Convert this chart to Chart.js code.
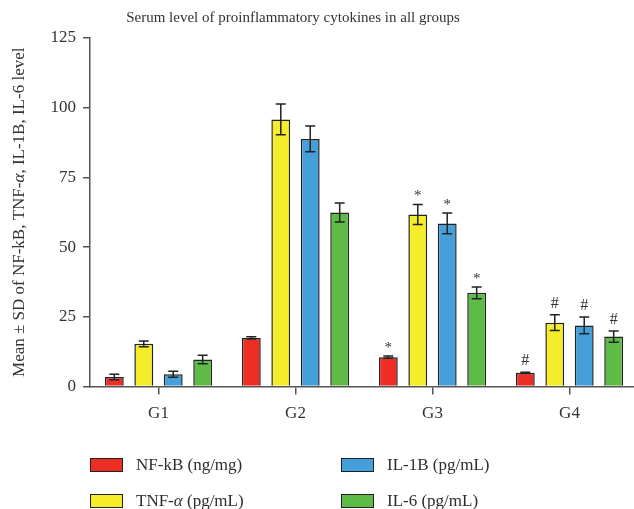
<!DOCTYPE html>
<html>
<head>
<meta charset="utf-8">
<script src="https://cdn.jsdelivr.net/npm/chart.js@4.4.0/dist/chart.umd.min.js"></script>
<style>
    html, body { margin: 0; padding: 0; background: #fff; overflow: hidden; }
    #wrap { position: relative; width: 634px; height: 509px; overflow: hidden; }
    canvas { position: absolute; left: 0; top: 0; }
    .legend-item { position: absolute; display: flex; align-items: center; font-family: "Liberation Serif", serif; font-size: 17px; color: #2e2e2e; white-space: nowrap; }
    .legend-item .box { display: inline-block; width: 31px; height: 12px; border: 1.5px solid #222; margin-right: 13px; }
</style>
</head>
<body>
<div id="wrap">
    <canvas id="barChart" width="640" height="509" style="width:640px;height:509px"></canvas>
    <div id="legend"></div>
</div>
<script>
const groups = ['G1', 'G2', 'G3', 'G4'];
const seriesNames = ['NF-kB (ng/mg)', 'TNF-α (pg/mL)', 'IL-1B (pg/mL)', 'IL-6 (pg/mL)'];
const seriesColors = ['#ee2d24', '#f5ec2a', '#45a0da', '#5dbb46'];

// mean and SD per group (G1..G4)
const nfkbMean = [3.4, 17.4, 10.5, 4.9];
const nfkbSd = [1.0, 0.4, 0.4, 0.2];
const tnfMean = [15.3, 95.8, 61.7, 22.9];
const tnfSd = [1.0, 5.5, 3.6, 2.8];
const il1bMean = [4.4, 88.8, 58.5, 21.9];
const il1bSd = [1.1, 4.6, 3.7, 3.0];
const il6Mean = [9.7, 62.4, 33.6, 17.9];
const il6Sd = [1.5, 3.4, 2.1, 2.0];

// significance marks shown above every bar of a group
const groupMarks = ['', '', '*', '#'];
const yTicks = [0, 25, 50, 75, 100, 125];

const chartTitle = 'Serum level of proinflammatory cytokines in all groups';
const yTitleParts = [['Mean ± SD of NF-kB, TNF-', false], ['α', true], [', IL-1B, IL-6 level', false]];

const means = [nfkbMean, tnfMean, il1bMean, il6Mean];
const sds = [nfkbSd, tnfSd, il1bSd, il6Sd];

const FONT = '"Liberation Serif", serif';
const TEXT = '#333333';
const AXIS = '#555555';

Chart.defaults.font.family = FONT;
Chart.defaults.font.size = 17;
Chart.defaults.color = TEXT;

const errorBarPlugin = {
    id: 'errorBars',
    afterDatasetsDraw(chart) {
        const ctx = chart.ctx;
        const y = chart.scales.y;
        ctx.save();
        ctx.strokeStyle = '#222';
        ctx.lineWidth = 1.5;
        chart.data.datasets.forEach((ds, i) => {
            const meta = chart.getDatasetMeta(i);
            meta.data.forEach((bar, j) => {
                const m = means[i][j];
                const sd = sds[i][j];
                const top = y.getPixelForValue(m + sd);
                const bottom = y.getPixelForValue(m - sd);
                const cap = 5;
                ctx.beginPath();
                ctx.moveTo(bar.x, top); ctx.lineTo(bar.x, bottom);
                ctx.moveTo(bar.x - cap, top); ctx.lineTo(bar.x + cap, top);
                ctx.moveTo(bar.x - cap, bottom); ctx.lineTo(bar.x + cap, bottom);
                ctx.stroke();

                const mark = groupMarks[j];
                if (mark) {
                    ctx.fillStyle = TEXT;
                    ctx.textAlign = 'center';
                    ctx.textBaseline = 'middle';
                    ctx.font = (mark === '*' ? '15px ' : '16px ') + FONT;
                    ctx.fillText(mark, bar.x, top - (mark === '*' ? 8 : 11));
                }
            });
        });
        ctx.restore();
    }
};

const textPlugin = {
    id: 'titles',
    afterDraw(chart) {
        const ctx = chart.ctx;
        ctx.save();
        ctx.fillStyle = TEXT;
        ctx.textBaseline = 'middle';
        ctx.textAlign = 'center';
        ctx.font = '15px ' + FONT;
        ctx.fillText(chartTitle, 293, 18);

        // rotated y title with italic alpha
        const area = chart.chartArea;
        let total = 0;
        const widths = yTitleParts.map(([t, it]) => {
            ctx.font = (it ? 'italic ' : '') + '17px ' + FONT;
            const w = ctx.measureText(t).width;
            total += w;
            return w;
        });
        ctx.translate(20, (area.top + area.bottom) / 2);
        ctx.rotate(-Math.PI / 2);
        ctx.textAlign = 'left';
        let x = -total / 2;
        yTitleParts.forEach(([t, it], k) => {
            ctx.font = (it ? 'italic ' : '') + '17px ' + FONT;
            ctx.fillText(t, x, 0);
            x += widths[k];
        });
        ctx.restore();
    }
};

const ctx = document.getElementById('barChart').getContext('2d');
new Chart(ctx, {
    type: 'bar',
    data: {
        labels: groups,
        datasets: seriesNames.map((name, i) => ({
            label: name,
            data: means[i],
            backgroundColor: seriesColors[i],
            borderColor: '#222',
            borderWidth: 1.5,
            categoryPercentage: 0.86,
            barPercentage: 0.64
        }))
    },
    options: {
        responsive: false,
        animation: false,
        layout: { padding: { top: 38, right: 2, left: 0, bottom: 0 } },
        plugins: {
            legend: { display: false },
            title: { display: false },
            tooltip: { enabled: false }
        },
        scales: {
            x: {
                offset: true,
                afterFit(scale) { scale.height = 122.5; },
                grid: { drawOnChartArea: false, offset: false, tickLength: 8, color: AXIS, lineWidth: 1.5 },
                border: { color: AXIS, width: 1.5 },
                ticks: { padding: 9, color: TEXT, font: { size: 17 } }
            },
            y: {
                min: 0,
                max: 125,
                afterFit(scale) { scale.width = 90; },
                afterBuildTicks(scale) { scale.ticks = yTicks.map(v => ({ value: v })); },
                grid: { drawOnChartArea: false, tickLength: 7, color: AXIS, lineWidth: 1.5 },
                border: { color: AXIS, width: 1.5 },
                ticks: { padding: 7, color: TEXT, font: { size: 17 } }
            }
        }
    },
    plugins: [errorBarPlugin, textPlugin]
});

// legend: two columns, NF-kB/TNF on the left, IL-1B/IL-6 on the right
const legendSpots = [[90, 465], [90, 501], [341, 465], [341, 501]];
const legendEl = document.getElementById('legend');
seriesNames.forEach((name, i) => {
    const item = document.createElement('div');
    item.className = 'legend-item';
    item.style.left = legendSpots[i][0] + 'px';
    item.style.top = (legendSpots[i][1] - 10) + 'px';
    item.style.height = '20px';
    const box = document.createElement('span');
    box.className = 'box';
    box.style.background = seriesColors[i];
    const label = document.createElement('span');
    label.innerHTML = name.replace('α', '<i>α</i>');
    item.appendChild(box);
    item.appendChild(label);
    legendEl.appendChild(item);
});
</script>
</body>
</html>
